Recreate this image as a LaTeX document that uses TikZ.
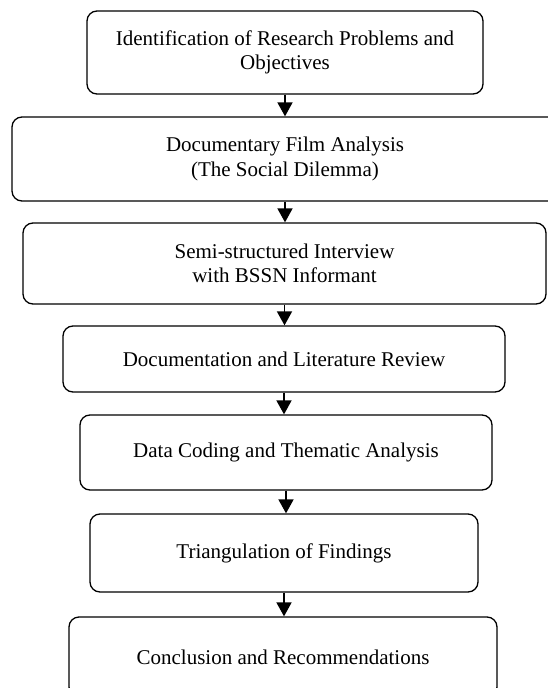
\documentclass[tikz,border=0pt]{standalone}
\usepackage{fontspec}
\setmainfont{Liberation Serif}
\usetikzlibrary{arrows.meta}
\begin{document}
\begin{tikzpicture}[x=1pt,y=-1pt,
  stepbox/.style={draw, line width=1.3pt, rounded corners=10pt, align=center, inner sep=0pt,
    font=\fontsize{21}{24.5}\selectfont},
  flow/.style={line width=1.8pt, -{Triangle[width=15pt,length=14pt]}}]
\useasboundingbox (0,0) rectangle (547,688);
\node[stepbox, minimum width=396pt, minimum height=83pt] (b1) at (285,52.5) {Identification of Research Problems and\\Objectives};
\node[stepbox, minimum width=546pt, minimum height=84pt] (b2) at (285,159) {Documentary Film Analysis\\(The Social Dilemma)};
\node[stepbox, minimum width=523pt, minimum height=81pt] (b3) at (284.5,263.5) {Semi-structured Interview\\with BSSN Informant};
\node[stepbox, minimum width=442pt, minimum height=66pt] (b4) at (284,359) {Documentation and Literature Review};
\node[stepbox, minimum width=412pt, minimum height=75pt] (b5) at (286,452.5) {Data Coding and Thematic Analysis};
\node[stepbox, minimum width=388pt, minimum height=78pt] (b6) at (284,553) {Triangulation of Findings};
\node[stepbox, minimum width=428pt, minimum height=80pt] (b7) at (283,657) {Conclusion and Recommendations};
\draw[flow] (b1.south) -- (b1.south |- b2.north);
\draw[flow] (b2.south) -- (b2.south |- b3.north);
\draw[flow] (b3.south) -- (b3.south |- b4.north);
\draw[flow] (b4.south) -- (b4.south |- b5.north);
\draw[flow] (b5.south) -- (b5.south |- b6.north);
\draw[flow] (b6.south) -- (b6.south |- b7.north);
\end{tikzpicture}
\end{document}
